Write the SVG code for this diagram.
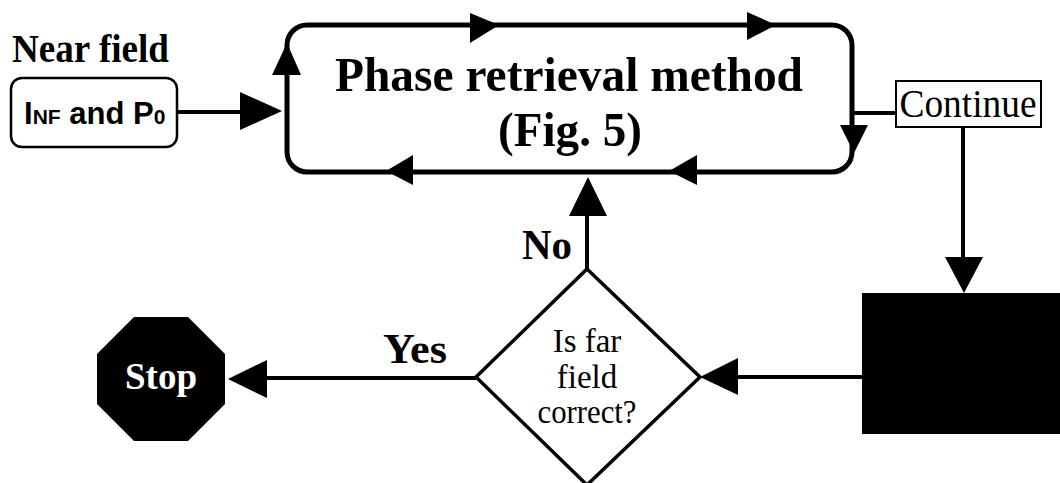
<svg xmlns="http://www.w3.org/2000/svg" width="1060" height="483" viewBox="0 0 1060 483">
  <style>
    .serif-b { font-family: "Liberation Serif", "Times New Roman", serif; font-weight: bold; fill: #000; }
    .serif { font-family: "Liberation Serif", "Times New Roman", serif; fill: #000; }
    .sans-b { font-family: "Liberation Sans", Arial, sans-serif; font-weight: bold; fill: #000; }
    .wire { stroke: #000; stroke-width: 4; fill: none; }
    .head { fill: #000; stroke: none; }
  </style>
  <rect width="1060" height="483" fill="#fff"/>

  <!-- input: near field -->
  <g id="near-field">
    <text class="serif-b" x="12" y="62" font-size="40" textLength="157" lengthAdjust="spacingAndGlyphs">Near field</text>
    <rect x="11" y="78" width="166" height="69" rx="11" fill="#fff" stroke="#000" stroke-width="2.5"/>
    <text class="sans-b" x="24" y="124" font-size="31">I<tspan font-size="21">NF</tspan> and P<tspan font-size="21">0</tspan></text>
  </g>

  <!-- iterative phase retrieval loop -->
  <g id="phase-retrieval">
    <rect x="287" y="25" width="565" height="147" rx="20" fill="none" stroke="#000" stroke-width="5"/>
    <text class="serif-b" x="569" y="91" font-size="49" text-anchor="middle" textLength="468" lengthAdjust="spacingAndGlyphs">Phase retrieval method</text>
    <text class="serif-b" x="570" y="146" font-size="49" text-anchor="middle" textLength="144" lengthAdjust="spacingAndGlyphs">(Fig. 5)</text>
    <!-- circulation arrows on the loop -->
    <polygon class="head" points="470,13 499,25 470,43"/>
    <polygon class="head" points="747,12 776,25 747,40"/>
    <polygon class="head" points="840,125 868,125 854,153"/>
    <polygon class="head" points="697,155 697,185 669,171"/>
    <polygon class="head" points="413,155 413,185 386,171"/>
    <polygon class="head" points="272,75 301,75 287,43"/>
  </g>

  <g id="continue">
    <rect x="896" y="81" width="145" height="46" fill="#fff" stroke="#000" stroke-width="2"/>
    <text class="serif" x="968" y="117" font-size="41" text-anchor="middle" textLength="137" lengthAdjust="spacingAndGlyphs">Continue</text>
  </g>

  <g id="far-field-box">
    <rect x="862" y="293" width="198" height="141" fill="#000"/>
  </g>

  <g id="decision">
    <polygon points="587,269 700,377 587,485 476,377" fill="#fff" stroke="#000" stroke-width="3.5"/>
    <text class="serif" x="587" y="352" font-size="33" text-anchor="middle">Is far</text>
    <text class="serif" x="587" y="388" font-size="33" text-anchor="middle">field</text>
    <text class="serif" x="587" y="423" font-size="33" text-anchor="middle" textLength="99" lengthAdjust="spacingAndGlyphs">correct?</text>
  </g>

  <g id="stop">
    <polygon points="134,317 188,317 225,354 225,404 188,441 134,441 97,404 97,354" fill="#000"/>
    <text x="161" y="389" font-size="38" text-anchor="middle" font-family="Liberation Serif, Times New Roman, serif" font-weight="bold" fill="#fff" textLength="72" lengthAdjust="spacingAndGlyphs">Stop</text>
  </g>

  <!-- connectors -->
  <g id="connectors">
    <line class="wire" x1="177" y1="112" x2="245" y2="112"/>
    <polygon class="head" points="240,92 282,111 240,130"/>

    <line class="wire" x1="852" y1="113" x2="896" y2="113" stroke-width="3"/>

    <line class="wire" x1="963" y1="127" x2="963" y2="260"/>
    <polygon class="head" points="945,257 983,257 964,293"/>

    <line class="wire" x1="862" y1="377" x2="735" y2="377"/>
    <polygon class="head" points="738,358 738,395 700,377"/>

    <line class="wire" x1="587" y1="269" x2="587" y2="212"/>
    <polygon class="head" points="569,216 607,216 588,177"/>
    <text class="serif-b" x="547" y="259" font-size="43" text-anchor="middle" textLength="50" lengthAdjust="spacingAndGlyphs">No</text>

    <line class="wire" x1="476" y1="378" x2="262" y2="378"/>
    <polygon class="head" points="267,360 267,398 228,379"/>
    <text class="serif-b" x="415" y="363" font-size="43" text-anchor="middle" textLength="64" lengthAdjust="spacingAndGlyphs">Yes</text>
  </g>
</svg>
